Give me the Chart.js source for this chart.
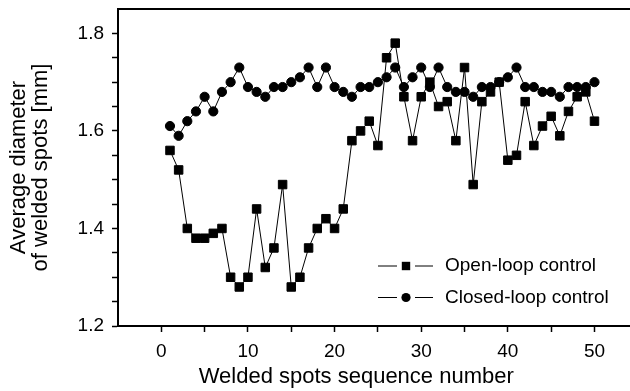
<!DOCTYPE html>
<html>
<head>
<meta charset="utf-8">
<script src="https://cdn.jsdelivr.net/npm/chart.js"></script>
<style>
  body { margin: 0; background: #fff; }
</style>
</head>
<body>
<canvas id="canvasSpots" width="630" height="391"></canvas>
<script>
/*///////////////////////////////////////////////////////////
資料
///////////////////////////////////////////////////////////*/
var spotNumbers = [1, 2, 3, 4, 5, 6, 7, 8, 9, 10,
    11, 12, 13, 14, 15, 16, 17, 18, 19, 20,
    21, 22, 23, 24, 25, 26, 27, 28, 29, 30,
    31, 32, 33, 34, 35, 36, 37, 38, 39, 40,
    41, 42, 43, 44, 45, 46, 47, 48, 49, 50];

var openLoop = [1.56, 1.52, 1.40, 1.38, 1.38, 1.39, 1.40, 1.30, 1.28, 1.30,
    1.44, 1.32, 1.36, 1.49, 1.28, 1.30, 1.36, 1.40, 1.42, 1.40,
    1.44, 1.58, 1.60, 1.62, 1.57, 1.75, 1.78, 1.67, 1.58, 1.67,
    1.70, 1.65, 1.66, 1.58, 1.73, 1.49, 1.66, 1.68, 1.70, 1.54,
    1.55, 1.66, 1.57, 1.61, 1.63, 1.59, 1.64, 1.67, 1.68, 1.62];

var closedLoop = [1.61, 1.59, 1.62, 1.64, 1.67, 1.64, 1.68, 1.70, 1.73, 1.69,
    1.68, 1.67, 1.69, 1.69, 1.70, 1.71, 1.73, 1.69, 1.73, 1.69,
    1.68, 1.67, 1.69, 1.69, 1.70, 1.71, 1.73, 1.69, 1.71, 1.73,
    1.69, 1.73, 1.69, 1.68, 1.68, 1.67, 1.69, 1.69, 1.70, 1.71,
    1.73, 1.69, 1.69, 1.68, 1.68, 1.67, 1.69, 1.69, 1.69, 1.70];

var seriesLabels = ['Open-loop control', 'Closed-loop control'];
var xTitle = 'Welded spots sequence number';
var yTitle = ['Average diameter', 'of welded spots [mm]'];
var xTickValues = [0, 5, 10, 15, 20, 25, 30, 35, 40, 45, 50];
var xLabelValues = [0, 10, 20, 30, 40, 50];
var yTickValues = [1.20, 1.25, 1.30, 1.35, 1.40, 1.45, 1.50, 1.55, 1.60, 1.65, 1.70, 1.75, 1.80];
var yLabelValues = [1.2, 1.4, 1.6, 1.8];

var fontFamily = '"Liberation Sans", Arial, sans-serif';

function toPoints(values) {
    return values.map(function (v, i) { return { x: spotNumbers[i], y: v }; });
}

// no extra room for the edge labels, the frame has to sit where the picture has it
function noPadding(scale) {
    scale.paddingTop = 0;
    scale.paddingBottom = 0;
    scale.paddingLeft = 0;
    scale.paddingRight = 0;
}

/*///////////////////////////////////////////////////////////
圖例 (線-符號-線) + x 軸標題
///////////////////////////////////////////////////////////*/
var lineLegend = {
    id: 'lineLegend',
    afterDraw: function (chart) {
        var ctx = chart.ctx;
        var area = chart.chartArea;
        var x0 = area.left + 260;
        var y0 = area.top + 257;
        ctx.save();
        chart.data.datasets.forEach(function (ds, i) {
            var y = y0 + i * 31.5;
            var mx = x0 + 28;
            ctx.strokeStyle = '#000';
            ctx.lineWidth = 1;
            ctx.beginPath();
            ctx.moveTo(x0, y); ctx.lineTo(x0 + 19, y);
            ctx.moveTo(x0 + 37, y); ctx.lineTo(x0 + 55, y);
            ctx.stroke();
            ctx.fillStyle = '#000';
            if (ds.pointStyle === 'rect') {
                ctx.fillRect(mx - 4.2, y - 4.2, 8.4, 8.4);
            } else {
                ctx.beginPath();
                ctx.arc(mx, y, 4.6, 0, Math.PI * 2);
                ctx.fill();
            }
            ctx.font = '19px ' + fontFamily;
            ctx.textBaseline = 'middle';
            ctx.textAlign = 'left';
            ctx.fillText(ds.label, x0 + 67, y);
        });

        // x title is centred between the left frame and the last tick (50), not under the whole frame
        var xs = chart.scales.x;
        ctx.font = '22px ' + fontFamily;
        ctx.textAlign = 'center';
        ctx.textBaseline = 'middle';
        ctx.fillText(xTitle, (xs.left + xs.getPixelForValue(50)) / 2, area.bottom + 51);
        ctx.restore();
    }
};

/*///////////////////////////////////////////////////////////
折線圖
///////////////////////////////////////////////////////////*/
var ctx = document.getElementById('canvasSpots').getContext('2d');
var spotsChart = new Chart(ctx, {
    type: 'line',
    data: {
        datasets: [{
            label: seriesLabels[0],
            data: toPoints(openLoop),
            borderColor: '#000',
            backgroundColor: '#000',
            borderWidth: 1,
            pointStyle: 'rect',
            pointRadius: 6,
            pointBorderWidth: 1,
            order: 2
        }, {
            label: seriesLabels[1],
            data: toPoints(closedLoop),
            borderColor: '#000',
            backgroundColor: '#000',
            borderWidth: 1,
            pointStyle: 'circle',
            pointRadius: 4.6,
            pointBorderWidth: 1,
            order: 1
        }]
    },
    options: {
        responsive: false,
        animation: false,
        layout: { padding: 0, autoPadding: false },
        plugins: {
            legend: { display: false },
            tooltip: { enabled: false }
        },
        scales: {
            x: {
                type: 'linear',
                position: 'bottom',
                min: -5,
                max: 54.1,
                afterBuildTicks: function (scale) {
                    scale.ticks = xTickValues.map(function (v) { return { value: v }; });
                },
                afterFit: function (scale) { scale.height = 65; noPadding(scale); },
                grid: { drawOnChartArea: false, tickLength: 6, tickColor: '#000', tickWidth: 1.5 },
                border: { color: '#000', width: 2 },
                ticks: {
                    color: '#000',
                    padding: 8,
                    maxRotation: 0,
                    autoSkip: false,
                    font: { family: fontFamily, size: 19 },
                    callback: function (v) { return xLabelValues.indexOf(v) >= 0 ? String(v) : ''; }
                }
            },
            x2: {
                type: 'linear',
                position: 'top',
                min: -5,
                max: 54.1,
                afterFit: function (scale) { scale.height = 9; noPadding(scale); },
                grid: { drawOnChartArea: false, drawTicks: false },
                border: { color: '#000', width: 2 },
                ticks: { display: false }
            },
            y: {
                type: 'linear',
                position: 'left',
                min: 1.2,
                max: 1.85,
                afterBuildTicks: function (scale) {
                    scale.ticks = yTickValues.map(function (v) { return { value: v }; });
                },
                afterFit: function (scale) { scale.width = 118; noPadding(scale); },
                grid: { drawOnChartArea: false, tickLength: 6, tickColor: '#000', tickWidth: 1.5 },
                border: { color: '#000', width: 2 },
                ticks: {
                    color: '#000',
                    padding: 8,
                    autoSkip: false,
                    font: { family: fontFamily, size: 19 },
                    callback: function (v) {
                        for (var i = 0; i < yLabelValues.length; i++) {
                            if (Math.abs(yLabelValues[i] - v) < 1e-6) return yLabelValues[i].toFixed(1);
                        }
                        return '';
                    }
                },
                title: {
                    display: true,
                    text: yTitle,
                    color: '#000',
                    font: { family: fontFamily, size: 22, lineHeight: 1.0 },
                    padding: { top: 8, bottom: 0 }
                }
            }
        }
    },
    plugins: [lineLegend]
});
</script>
</body>
</html>
